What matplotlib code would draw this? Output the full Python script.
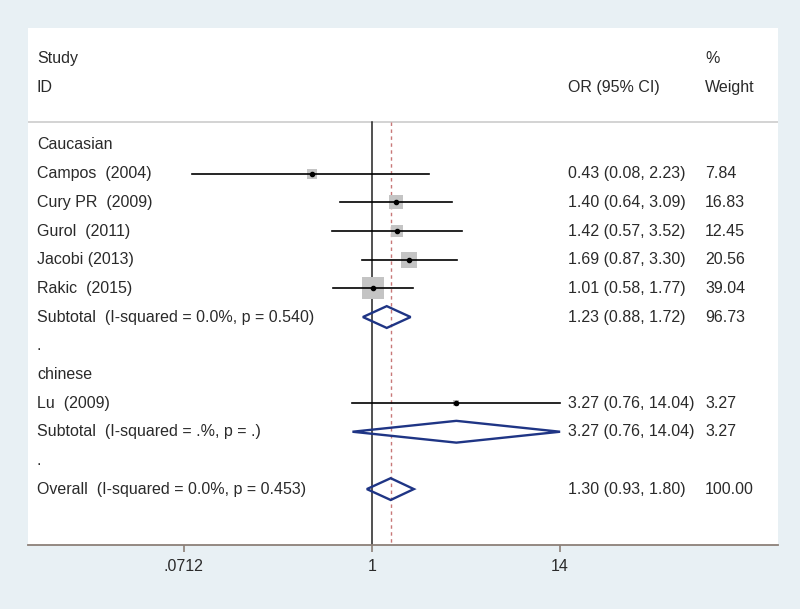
import numpy as np
import matplotlib
matplotlib.use("Agg")
import matplotlib.pyplot as plt
from matplotlib.patches import Polygon
import matplotlib.transforms as mtransforms

plt.rcParams['font.family'] = ['Liberation Sans', 'DejaVu Sans']

# ---- data ----
group1 = "Caucasian"
group2 = "chinese"
studies = ["Campos  (2004)", "Cury PR  (2009)", "Gurol  (2011)", "Jacobi (2013)", "Rakic  (2015)"]
study_or = [0.43, 1.40, 1.42, 1.69, 1.01]
study_lo = [0.08, 0.64, 0.57, 0.87, 0.58]
study_hi = [2.23, 3.09, 3.52, 3.30, 1.77]
study_w = [7.84, 16.83, 12.45, 20.56, 39.04]

sub1_label = "Subtotal  (I-squared = 0.0%, p = 0.540)"
sub1 = (1.23, 0.88, 1.72, 96.73)

studies2 = ["Lu  (2009)"]
study2_or = [3.27]
study2_lo = [0.76]
study2_hi = [14.04]
study2_w = [3.27]

sub2_label = "Subtotal  (I-squared = .%, p = .)"
sub2 = (3.27, 0.76, 14.04, 3.27)

overall_label = "Overall  (I-squared = 0.0%, p = 0.453)"
overall = (1.30, 0.93, 1.80, 100.00)

tick_vals = [0.0712, 1, 14]
tick_labels = [".0712", "1", "14"]

# ---- figure ----
W, H = 800, 609
fig = plt.figure(figsize=(W / 100, H / 100), dpi=100)
fig.patch.set_facecolor('#e8f0f4')

left_px, right_px, top_px, bot_px = 28, 778, 28, 545
ax = fig.add_axes([left_px / W, 1 - bot_px / H, (right_px - left_px) / W, (bot_px - top_px) / H])
ax.set_facecolor('white')

scale = 71.2  # px per ln unit
x1_px = 372
ax.set_xscale('log')
ax.set_xlim(np.exp((left_px - x1_px) / scale), np.exp((right_px - x1_px) / scale))
ax.set_ylim(13.95, -4.08)

for s in ['top', 'right', 'left']:
    ax.spines[s].set_visible(False)
ax.spines['bottom'].set_color('#8c8078')
ax.spines['bottom'].set_linewidth(1.3)
ax.set_yticks([])
ax.set_xticks(tick_vals)
ax.set_xticklabels(tick_labels)
ax.xaxis.set_minor_locator(matplotlib.ticker.NullLocator())
ax.tick_params(axis='x', length=5, width=1.2, color='#8c8078', pad=5, labelsize=11.5, labelcolor='#2a2a2a')

txt_color = '#2a2a2a'
fs = 11.5
trans = mtransforms.blended_transform_factory(ax.transAxes, ax.transData)
x_lab, x_or, x_w = 0.012, 0.72, 0.9027

# header
ax.text(x_lab, -3, "Study", transform=trans, fontsize=fs, color=txt_color, va='center')
ax.text(x_lab, -2, "ID", transform=trans, fontsize=fs, color=txt_color, va='center')
ax.text(x_or, -2, "OR (95% CI)", transform=trans, fontsize=fs, color=txt_color, va='center')
ax.text(x_w, -3, "%", transform=trans, fontsize=fs, color=txt_color, va='center')
ax.text(x_w, -2, "Weight", transform=trans, fontsize=fs, color=txt_color, va='center')
ax.axhline(-0.8, color='#cccccc', lw=1.2)

# reference lines
ax.plot([1, 1], [-0.8, 13.95], color='#222222', lw=1.1, zorder=2)
ax.plot([overall[0], overall[0]], [-0.8, 13.95], color='#c87878', lw=1.0, ls=(0, (2.5, 2.5)), zorder=2)

def study_row(y, name, o, lo, hi, w):
    ax.text(x_lab, y, name, transform=trans, fontsize=fs, color=txt_color, va='center')
    ax.scatter([o], [y], marker='s', s=6.7 * w, color='#c4c4c4', zorder=3, linewidths=0)
    ax.plot([lo, hi], [y, y], color='black', lw=1.2, zorder=4)
    ax.plot([o], [y], 'o', color='black', ms=3, zorder=5)
    ax.text(x_or, y, f"{o:.2f} ({lo:.2f}, {hi:.2f})", transform=trans, fontsize=fs, color=txt_color, va='center')
    ax.text(x_w, y, f"{w:.2f}", transform=trans, fontsize=fs, color=txt_color, va='center')

def diamond_row(y, name, vals):
    o, lo, hi, w = vals
    ax.text(x_lab, y, name, transform=trans, fontsize=fs, color=txt_color, va='center')
    hh = 0.38
    poly = Polygon([[lo, y], [o, y - hh], [hi, y], [o, y + hh]], closed=True,
                   facecolor='none', edgecolor='#1f3585', lw=1.7, zorder=4)
    ax.add_patch(poly)
    ax.text(x_or, y, f"{o:.2f} ({lo:.2f}, {hi:.2f})", transform=trans, fontsize=fs, color=txt_color, va='center')
    ax.text(x_w, y, f"{w:.2f}", transform=trans, fontsize=fs, color=txt_color, va='center')

ax.text(x_lab, 0, group1, transform=trans, fontsize=fs, color=txt_color, va='center')
for i, (n, o, lo, hi, w) in enumerate(zip(studies, study_or, study_lo, study_hi, study_w)):
    study_row(1 + i, n, o, lo, hi, w)
diamond_row(6, sub1_label, sub1)
ax.text(x_lab, 7, ".", transform=trans, fontsize=fs, color=txt_color, va='center')
ax.text(x_lab, 8, group2, transform=trans, fontsize=fs, color=txt_color, va='center')
for i, (n, o, lo, hi, w) in enumerate(zip(studies2, study2_or, study2_lo, study2_hi, study2_w)):
    study_row(9 + i, n, o, lo, hi, w)
diamond_row(10, sub2_label, sub2)
ax.text(x_lab, 11, ".", transform=trans, fontsize=fs, color=txt_color, va='center')
diamond_row(12, overall_label, overall)

fig.savefig("out.png", dpi=100, facecolor=fig.get_facecolor())
